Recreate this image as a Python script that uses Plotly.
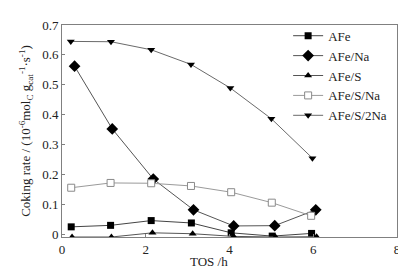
import plotly.graph_objects as go

# Data
series_names = ["AFe", "AFe/Na", "AFe/S", "AFe/S/Na", "AFe/S/2Na"]

x_afe = [0.22, 1.16, 2.13, 3.09, 4.04, 5.02, 5.96]
y_afe = [0.024, 0.029, 0.045, 0.037, 0.004, -0.007, 0.002]

x_afe_na = [0.30, 1.20, 2.18, 3.14, 4.10, 5.08, 6.06]
y_afe_na = [0.562, 0.352, 0.184, 0.081, 0.027, 0.028, 0.081]

x_afe_s = [0.24, 1.18, 2.16, 3.12, 4.10, 5.10, 6.08]
y_afe_s = [-0.010, -0.010, 0.004, 0.001, -0.008, -0.010, -0.009]

x_afe_s_na = [0.22, 1.16, 2.13, 3.08, 4.04, 5.01, 5.95]
y_afe_s_na = [0.155, 0.171, 0.170, 0.161, 0.140, 0.105, 0.061]

x_afe_s_2na = [0.21, 1.17, 2.13, 3.08, 4.02, 5.00, 5.98]
y_afe_s_2na = [0.645, 0.644, 0.617, 0.568, 0.489, 0.386, 0.254]

x_ticks = [0, 2, 4, 6, 8]
y_ticks = [0, 0.1, 0.2, 0.3, 0.4, 0.5, 0.6, 0.7]
y_tick_labels = ["0", "0.1", "0.2", "0.3", "0.4", "0.5", "0.6", "0.7"]

FONT = "Liberation Serif"

fig = go.Figure()

fig.add_trace(go.Scatter(
    x=x_afe, y=y_afe, name=series_names[0], mode="lines+markers",
    line=dict(color="#444444", width=1),
    marker=dict(symbol="square", size=7, color="black")))
fig.add_trace(go.Scatter(
    x=x_afe_na, y=y_afe_na, name=series_names[1], mode="lines+markers",
    line=dict(color="#555555", width=1),
    marker=dict(symbol="diamond", size=9, color="black")))
fig.add_trace(go.Scatter(
    x=x_afe_s, y=y_afe_s, name=series_names[2], mode="lines+markers",
    line=dict(color="#555555", width=1),
    marker=dict(symbol="triangle-up", size=7, color="black")))
fig.add_trace(go.Scatter(
    x=x_afe_s_na, y=y_afe_s_na, name=series_names[3], mode="lines+markers",
    line=dict(color="#9a9a9a", width=1),
    marker=dict(symbol="square", size=7, color="white",
                line=dict(color="#8a8a8a", width=1))))
fig.add_trace(go.Scatter(
    x=x_afe_s_2na, y=y_afe_s_2na, name=series_names[4], mode="lines+markers",
    line=dict(color="#6a6a6a", width=1),
    marker=dict(symbol="triangle-down", size=7, color="black")))

fig.update_layout(
    width=406, height=268,
    margin=dict(l=54, r=17, t=10, b=39),
    paper_bgcolor="white", plot_bgcolor="white",
    font=dict(family=FONT, size=13, color="#222222"),
    showlegend=True,
    legend=dict(x=0.675, y=1.02, xanchor="left", yanchor="top",
                bgcolor="rgba(0,0,0,0)", font=dict(family=FONT, size=13),
                itemwidth=30, tracegroupgap=0),
    xaxis=dict(range=[0, 8], tickvals=x_ticks, ticktext=[str(v) for v in x_ticks],
               ticks="inside", ticklen=3, tickcolor="#808080",
               showline=True, linecolor="#808080", linewidth=1, mirror=True,
               showgrid=False, zeroline=False,
               tickfont=dict(family=FONT, size=13)),
    yaxis=dict(range=[-0.01, 0.7], tickvals=y_ticks, ticktext=y_tick_labels,
               ticks="inside", ticklen=3, tickcolor="#808080",
               showline=True, linecolor="#808080", linewidth=1, mirror=True,
               showgrid=False, zeroline=False,
               tickfont=dict(family=FONT, size=13),
               title=dict(text="Coking rate / (10<sup>-6</sup>mol<sub>C</sub> g<sub>cat</sub><sup>-1</sup>·s<sup>-1</sup>)",
                          font=dict(family=FONT, size=13), standoff=8)),
)

fig.add_annotation(text="TOS /h", xref="paper", yref="paper",
                   x=(201 - 54) / (389 - 54), y=-0.07, xanchor="center", yanchor="top",
                   showarrow=False, font=dict(family=FONT, size=13))

fig.write_html("out.html")
